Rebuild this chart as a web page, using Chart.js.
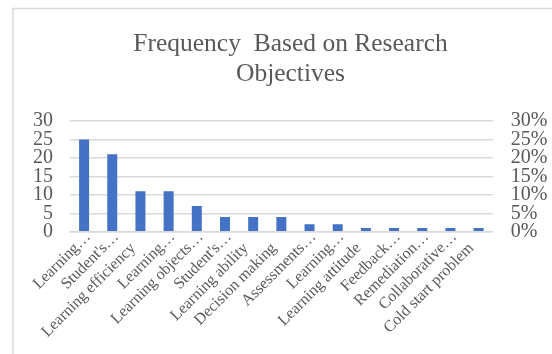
<!DOCTYPE html>
<html>
<head>
<meta charset="utf-8">
<script src="https://cdn.jsdelivr.net/npm/chart.js@4/dist/chart.umd.min.js"></script>
<style>
  html, body { margin: 0; padding: 0; background: #ffffff; }
  #wrap { width: 552px; height: 354px; position: relative; }
</style>
</head>
<body>
<div id="wrap"><canvas id="chart" width="552" height="354"></canvas></div>
<script>
// Categories (long names are shown shortened, as on the axis)
const categories = [
  "Learning\u2026",
  "Student's\u2026",
  "Learning efficiency",
  "Learning\u2026",
  "Learning objects\u2026",
  "Student's\u2026",
  "Learning ability",
  "Decision making",
  "Assessments\u2026",
  "Learning\u2026",
  "Learning attitude",
  "Feedback\u2026",
  "Remediation\u2026",
  "Collaborative\u2026",
  "Cold start problem"
];

// Number of studies per research objective
const frequency = [25, 21, 11, 11, 7, 4, 4, 4, 2, 2, 1, 1, 1, 1, 1];

// Axis ranges
const countTicks = [0, 5, 10, 15, 20, 25, 30];
const percentTicks = [0, 0.05, 0.10, 0.15, 0.20, 0.25, 0.30];

const titleLines = ["Frequency  Based on Research", "Objectives"];

const textGray = "#595959";
const gridGray = "#d9d9d9";
const serif = "'Liberation Serif', 'Times New Roman', serif";

// Shortened names let their ellipsis run past the tick; full names get an
// em space at the end so both kinds of label sit on the same line.
const axisLabels = categories.map(c => c.endsWith("\u2026") ? c : c + "\u2003");

// Light frame around the chart
const framePlugin = {
  id: "frame",
  beforeDraw(chart) {
    const ctx = chart.ctx;
    ctx.save();
    ctx.fillStyle = "#ffffff";
    ctx.fillRect(0, 0, chart.width, chart.height);
    ctx.strokeStyle = gridGray;
    ctx.lineWidth = 1.5;
    ctx.beginPath();
    ctx.moveTo(13, chart.height);
    ctx.lineTo(13, 8.5);
    ctx.lineTo(chart.width, 8.5);
    ctx.stroke();
    ctx.restore();
  }
};

new Chart(document.getElementById("chart"), {
  type: "bar",
  data: {
    labels: axisLabels,
    datasets: [{
      label: "Frequency",
      data: frequency,
      backgroundColor: "#4472C4",
      borderWidth: 0,
      categoryPercentage: 1.0,
      barPercentage: 0.355,
      yAxisID: "y"
    }]
  },
  options: {
    responsive: false,
    animation: false,
    devicePixelRatio: 1,
    layout: { padding: { left: 29, right: 0, top: 14, bottom: 0 } },
    plugins: {
      legend: { display: false },
      tooltip: { enabled: false },
      title: {
        display: true,
        text: titleLines,
        color: textGray,
        font: { family: serif, size: 25.5, weight: "normal", lineHeight: 1.18 },
        padding: { top: 15, bottom: 32 }
      }
    },
    scales: {
      x: {
        grid: { display: false, drawTicks: false },
        border: { display: true, color: gridGray, width: 1.5 },
        ticks: {
          autoSkip: false,
          maxRotation: 45,
          minRotation: 45,
          padding: -4,
          labelOffset: 4,
          color: textGray,
          font: { family: serif, size: 16 }
        },
        afterFit(scale) { scale.height = 122.3; }
      },
      y: {
        position: "left",
        min: countTicks[0],
        max: countTicks[countTicks.length - 1],
        grid: { color: gridGray, lineWidth: 1.5, drawTicks: false },
        border: { display: false },
        afterBuildTicks(scale) { scale.ticks = countTicks.map(v => ({ value: v })); },
        ticks: {
          autoSkip: false,
          stepSize: 5,
          padding: 17,
          color: textGray,
          font: { family: serif, size: 20 }
        },
        afterFit(scale) { scale.width = 41; }
      },
      y1: {
        position: "right",
        min: percentTicks[0],
        max: percentTicks[percentTicks.length - 1],
        grid: { display: false, drawTicks: false },
        border: { display: false },
        afterBuildTicks(scale) { scale.ticks = percentTicks.map(v => ({ value: v })); },
        ticks: {
          autoSkip: false,
          padding: 18,
          color: textGray,
          font: { family: serif, size: 20 },
          callback: v => Math.round(v * 100) + "%"
        },
        afterFit(scale) { scale.width = 59.3; }
      }
    }
  },
  plugins: [framePlugin]
});
</script>
</body>
</html>
